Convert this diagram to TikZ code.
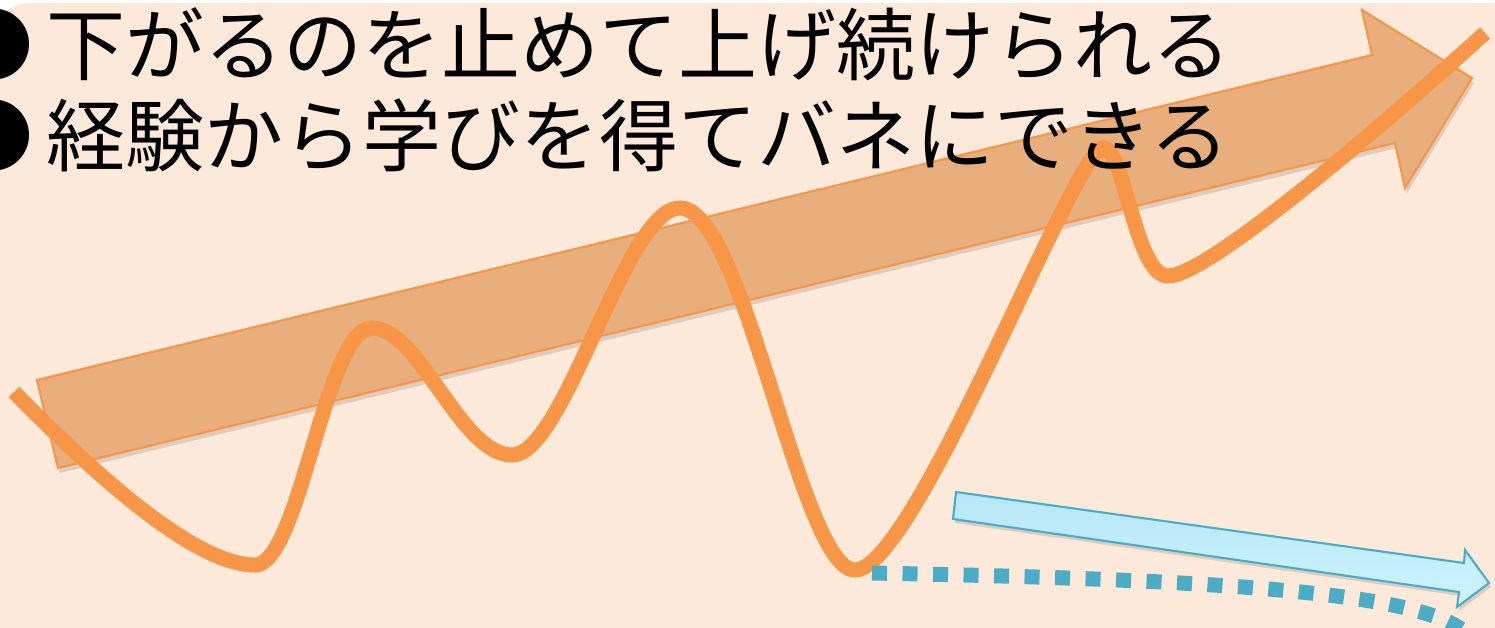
\documentclass[tikz,border=0pt]{standalone}
\usepackage{fontspec}
\newfontfamily\jpfont{Noto Sans CJK JP}
\definecolor{bgpeach}{HTML}{FDE9D9}
\definecolor{accorange}{HTML}{F79646}
\definecolor{arrowfill}{HTML}{E8AE7C}
\definecolor{accblue}{HTML}{4BACC6}
\definecolor{bluetop}{HTML}{B6E6F6}
\definecolor{bluebot}{HTML}{CDF4FF}
\tikzset{
  bigarrow/.style={fill=arrowfill, draw=accorange, line width=0.6pt, line join=miter},
  bluearrow/.style={top color=bluetop, bottom color=bluebot, draw=accblue, line width=0.6pt},
  softshadow/.style={fill=black, opacity=0.12},
  wave/.style={draw=accorange, line width=0.15cm},
  dotline/.style={draw=accblue, line width=0.15cm, dash pattern=on 0.15cm off 0.155cm},
  bullettext/.style={anchor=base west, inner sep=0pt, text=black, font=\jpfont\fontsize{22.46pt}{26pt}\selectfont}
}
\begin{document}
\begin{tikzpicture}[x=0.01cm,y=-0.01cm]
\useasboundingbox (0,0) rectangle (1495,627);
\clip (0,0) rectangle (1495,627);
\fill[white] (0,0) rectangle (1495,627);
\fill[bgpeach, rounded corners=0.4cm] (-10,3) rectangle (1600,700);

% big upward arrow
\fill[softshadow, shift={(2,5)}] (37,380) -- (1372,55) -- (1362,10) -- (1472,78) -- (1405,188) -- (1395,143) -- (58,468) -- cycle;
\path[bigarrow] (37,380) -- (1372,55) -- (1362,10) -- (1472,78) -- (1405,188) -- (1395,143) -- (58,468) -- cycle;

% wave
\path[wave] (14,392) .. controls (110,490) and (200,565) .. (255,565)
  .. controls (300,565) and (325,328) .. (372,328)
  .. controls (420,328) and (460,455) .. (512,455)
  .. controls (565,455) and (625,208) .. (680,208)
  .. controls (745,208) and (800,570) .. (855,570)
  .. controls (915,570) and (1075,148) .. (1103,148)
  .. controls (1125,148) and (1135,276) .. (1168,276)
  .. controls (1210,276) and (1400,110) .. (1485,33);

% blue arrow
\fill[softshadow, shift={(2,4)}] (956,492) -- (1464,563) -- (1465,550) -- (1489,583) -- (1457,607) -- (1459,592) -- (953,519) -- cycle;
\path[bluearrow] (956,492) -- (1464,563) -- (1465,550) -- (1489,583) -- (1457,607) -- (1459,592) -- (953,519) -- cycle;

% dotted line
\path[dotline] (872,573) .. controls (1250,580) and (1420,595) .. (1465,632);

% text
\node[bullettext] (line1) at (-46,74) {●\kern0.13cm 下がるのを止めて上げ続けられる};
\node[bullettext] (line2) at (-46,165) {●\kern0.13cm 経験から学びを得てバネにできる};
\end{tikzpicture}
\end{document}
